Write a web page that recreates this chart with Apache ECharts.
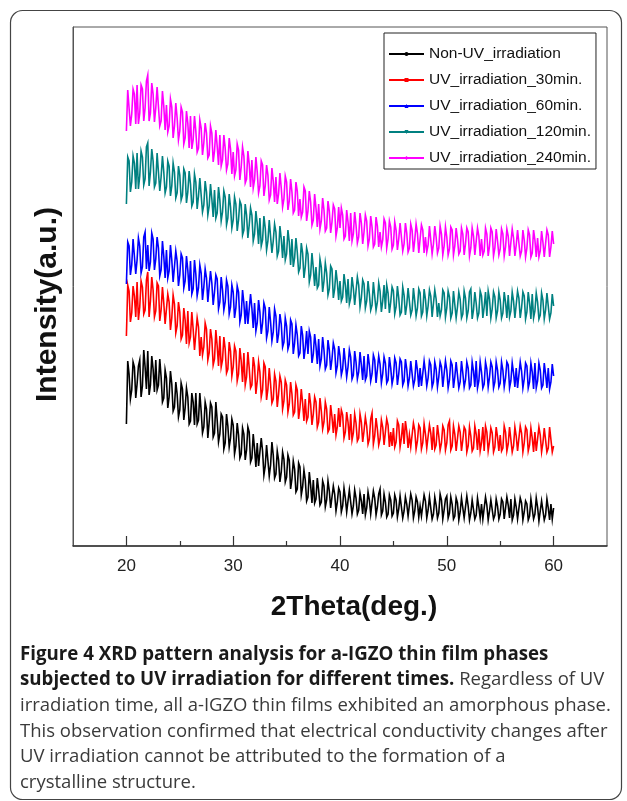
<!DOCTYPE html>
<html>
<head>
<meta charset="utf-8">
<script src="https://cdn.jsdelivr.net/npm/echarts@6/dist/echarts.min.js"></script>
<style>
html,body{margin:0;padding:0;background:#fff;}
#chart{width:627px;height:801px;}
</style>
</head>
<body>
<div id="chart"></div>
<script>
// 2θ sampling grid (degrees): 20° .. 60° every 0.125°
const thetaStart = 20;
const thetaStep = 0.125;
const majorTicks = [20, 30, 40, 50, 60];
const minorTicks = [25, 35, 45, 55];

const seriesNames = ['Non-UV_irradiation', 'UV_irradiation_30min.', 'UV_irradiation_60min.', 'UV_irradiation_120min.', 'UV_irradiation_240min.'];
const seriesColors = ['#000000', '#ff0000', '#0000ff', '#008080', '#ff00ff'];

// Intensities (a.u., traces offset as in the figure)
const nonUV = [
122,185,172,147,156,184,179,148,162,180,186,149,160,196,179,157,195,151,161,190,177,154,186,156,161,187,169,144,148,176,168,138,149,175,162,135,139,164,152,129,
136,163,157,126,138,158,149,122,125,153,144,121,153,122,126,153,135,113,119,144,137,108,124,143,139,109,113,144,126,104,112,132,129,97,103,132,120,99,108,127,
121,92,100,123,111,88,92,118,112,86,96,119,114,84,88,112,97,79,103,80,79,108,95,71,80,101,99,70,81,104,91,68,72,95,86,64,74,94,87,64,
69,91,86,57,67,85,77,54,57,83,79,51,59,76,66,45,49,74,61,43,66,43,47,68,56,41,44,65,60,39,46,65,55,38,38,60,52,35,44,58,
54,34,40,58,48,34,36,56,56,32,40,56,48,32,36,53,45,32,52,31,38,54,46,32,34,55,48,31,39,52,57,31,35,52,44,29,32,51,46,30,
33,51,46,29,37,50,50,28,35,49,42,30,29,52,46,28,35,49,44,29,40,30,31,51,45,28,36,49,48,27,32,49,41,28,33,52,46,27,36,47,
50,28,33,49,42,27,30,48,43,26,34,48,46,28,27,50,40,26,33,46,44,27,31,48,39,28,42,27,28,49,41,26,35,46,45,27,31,47,40,27,
32,47,44,27,29,49,41,28,47,26,31,47,39,27,28,48,43,26,34,45,42,26,30,47,47,27,32,48,39,25,26,45,44,26,31,47,38,26,42,27,
38];
const uv30 = [
210,261,255,224,233,260,250,229,264,226,239,265,259,232,236,266,274,229,245,269,256,229,235,263,260,225,236,259,243,222,223,252,244,216,228,251,242,213,220,244,
234,207,211,238,226,202,235,203,209,234,217,196,198,228,219,190,209,191,199,223,217,186,193,217,207,181,187,216,200,180,210,179,186,209,197,173,177,204,195,170,
179,200,195,165,172,198,185,164,193,161,169,194,178,158,161,189,180,152,165,184,174,149,156,183,179,146,157,178,162,143,147,172,165,139,152,170,164,137,145,166,
161,134,142,164,152,131,134,161,156,127,138,157,143,125,147,125,129,153,142,121,132,149,144,119,124,148,135,117,124,144,137,114,117,141,129,113,132,111,119,138,
119,136,131,108,114,134,124,106,132,106,113,132,123,105,108,132,124,104,115,129,120,102,107,127,133,102,110,128,117,101,107,126,119,101,102,127,121,99,114,100,
118,99,104,125,121,99,108,123,102,125,115,98,111,99,98,123,116,97,105,121,118,97,103,122,112,98,99,121,113,96,119,97,101,121,110,96,103,120,116,96,
103,121,125,96,100,120,112,95,97,120,114,95,106,119,116,94,100,119,110,95,98,120,112,96,117,95,103,119,95,120,114,95,104,118,113,94,99,119,109,95,
111,95,98,120,114,95,102,119,119,94,100,119,110,95,97,120,113,94,103,119,116,95,101,118,108,94,114,95,95,119,111,94,103,118,116,94,98,119,119,94,
100];
const uv60 = [
262,304,300,271,281,307,305,272,286,308,300,273,279,309,314,277,301,275,284,313,307,276,287,309,298,270,276,305,290,268,296,268,275,301,286,264,266,295,285,260,
271,292,288,258,265,290,276,255,285,252,257,286,272,250,258,281,273,246,259,277,268,244,246,275,263,241,254,271,267,237,244,269,256,236,244,266,260,232,239,261,
254,228,238,260,254,224,231,256,243,222,245,222,224,252,238,218,243,215,223,246,234,212,223,243,238,208,215,239,224,205,214,237,230,203,212,232,222,199,204,228,
220,197,202,226,222,192,203,221,211,190,193,220,211,187,198,215,192,215,209,183,192,212,200,182,207,180,187,209,196,177,181,206,196,176,187,203,197,173,180,200,
190,171,177,198,198,169,179,196,189,167,171,195,184,167,174,194,181,166,190,166,170,192,181,165,172,191,186,163,165,190,182,163,172,189,183,163,166,189,178,162,
169,188,183,161,172,187,184,161,165,187,177,160,168,185,186,160,166,186,176,159,178,160,162,185,174,160,168,185,181,159,164,184,177,159,169,184,179,159,161,185,
176,158,166,185,181,158,169,184,184,158,164,185,173,159,166,184,178,158,161,184,175,159,185,158,165,184,174,158,162,184,177,159,169,184,179,158,164,184,176,159,
163,184,176,159,168,184,181,158,165,183,173,159,178,158,160,184,175,158,167,183,180,158,164,183,174,157,183,158,165,183,176,158,161,183,172,158,178,157,164,182,
170];
const uv120 = [
342,389,385,354,364,390,383,357,393,357,370,395,389,361,367,399,403,360,374,397,385,359,363,393,391,355,369,390,374,353,359,385,380,350,360,383,374,348,353,380,
371,346,351,377,373,343,354,375,362,340,344,372,364,337,350,368,366,334,341,365,354,331,340,362,347,329,356,328,333,359,346,325,334,355,349,321,328,352,339,318,
326,349,342,315,326,345,341,311,316,342,331,308,321,338,331,305,312,335,322,302,328,300,306,330,318,296,305,326,324,293,305,322,314,290,295,320,307,288,310,286,
292,316,304,281,307,279,288,308,294,274,278,303,293,268,279,298,292,264,271,293,278,260,279,258,261,287,279,254,265,283,273,251,257,280,277,248,257,276,264,246,
265,245,249,272,261,243,267,242,248,269,258,241,242,269,261,239,248,266,262,238,245,265,252,236,241,264,263,236,244,263,255,234,245,261,237,261,253,233,244,259,
255,232,239,260,248,231,234,259,251,231,241,258,257,231,236,258,245,230,238,257,253,230,234,257,247,230,240,256,250,229,230,256,247,229,243,230,236,256,253,229,
238,255,249,228,233,255,254,228,239,254,247,228,232,255,248,228,235,254,257,227,236,254,243,228,233,255,250,228,239,254,230,255,247,228,237,254,249,228,235,254,
246,228,233,254,244,228,251,229,235,254,245,228,229,255,248,228,238,254,250,227,234,254,243,227,252,228,235,253,244,227,231,253,246,227,236,253,251,227,233,252,
240];
const uv240 = [
415,456,454,420,432,457,452,422,461,422,433,461,457,425,438,465,471,425,433,463,452,424,438,459,457,420,425,455,440,416,441,414,420,447,439,408,420,443,428,406,
415,439,434,402,408,435,423,398,430,397,406,430,415,394,398,426,418,391,403,423,413,388,391,420,413,384,395,416,400,381,411,380,386,411,398,376,382,408,397,372,
394,370,376,402,396,366,379,399,390,363,367,395,382,359,386,358,366,389,374,353,360,385,381,350,360,381,371,346,351,378,365,344,369,342,352,373,358,339,347,370,
364,336,345,367,354,333,336,364,355,330,347,329,334,359,355,325,335,355,344,321,326,352,338,319,342,317,325,348,336,315,318,345,335,313,324,341,337,310,318,339,
318,338,331,307,310,336,324,305,333,305,312,334,321,303,309,333,323,302,314,331,325,300,307,330,319,299,302,329,320,299,314,299,306,327,323,298,307,325,319,297,
301,324,316,296,307,323,321,295,302,323,313,294,298,322,316,294,306,322,313,293,295,321,316,293,309,294,301,320,320,292,302,320,309,293,298,320,312,291,300,319,
309,291,297,319,316,291,300,318,307,292,295,318,312,291,302,318,314,290,298,318,310,291,293,318,310,290,307,291,295,318,312,290,300,318,314,290,298,317,305,291,
297,317,312,290,299,317,310,290,292,317,308,290,301,316,315,290,295,316,306,289,298,316,311,289,293,316,306,289,308,289,295,315,304,289,290,316,311,289,299,315,
302];

const allSeries = [nonUV, uv30, uv60, uv120, uv240];
const legendSymbols = ['circle', 'path://M4,0L6,0L6,10L4,10Z', 'triangle', 'path://M0,0L10,0L5,10Z', 'diamond'];

const captionLines = [
  [{b: 'Figure 4 XRD pattern analysis for a-IGZO thin film phases'}],
  [{b: 'subjected to UV irradiation for different times.'}, {r: ' Regardless of UV'}],
  [{r: 'irradiation time, all a-IGZO thin films exhibited an amorphous phase.'}],
  [{r: 'This observation confirmed that electrical conductivity changes after'}],
  [{r: 'UV irradiation cannot be attributed to the formation of a'}],
  [{r: 'crystalline structure.'}]
];

const plotFont = "'Liberation Sans', Arial, sans-serif";
const capFont = "'Open Sans', 'Noto Sans', sans-serif";

function toPairs(arr) {
  return arr.map((v, i) => [thetaStart + i * thetaStep, v]);
}

const chart = echarts.init(document.getElementById('chart'), null, {renderer: 'canvas'});

const captionGraphics = captionLines.map((parts, i) => ({
  type: 'text',
  left: 20,
  top: 645 + i * 25.6,
  silent: true,
  style: {
    text: parts.map(p => p.b !== undefined ? '{b|' + p.b + '}' : '{r|' + p.r + '}').join(''),
    rich: {
      b: {fontFamily: capFont, fontWeight: 'bold', fontSize: 18.7, fill: '#1a1a1a'},
      r: {fontFamily: capFont, fontWeight: 'normal', fontSize: 18.5, fill: '#3a3a3a'}
    }
  }
}));

const option = {
  animation: false,
  backgroundColor: '#ffffff',
  grid: {left: 73, right: 20, top: 27, bottom: 255, show: true, borderColor: '#555', borderWidth: 1},
  legend: {
    orient: 'vertical',
    left: 384,
    top: 33,
    padding: [11, 5, 1, 4],
    itemWidth: 35,
    itemHeight: 5,
    itemGap: 6,
    borderColor: '#222',
    borderWidth: 1,
    backgroundColor: '#fff',
    textStyle: {fontFamily: plotFont, fontSize: 15.5, color: '#111', lineHeight: 20},
    data: seriesNames
  },
  xAxis: [{
    type: 'value',
    position: 'bottom',
    min: 15,
    max: 65,
    name: '2Theta(deg.)',
    nameLocation: 'middle',
    nameGap: 47,
    nameTextStyle: {fontFamily: plotFont, fontWeight: 'bold', fontSize: 28, color: '#111', padding: [0, 0, 0, 28]},
    axisLine: {show: true, onZero: false, lineStyle: {color: '#333', width: 1.5}},
    axisTick: {show: true, inside: true, length: 10, customValues: majorTicks, lineStyle: {color: '#333', width: 1.2}},
    axisLabel: {fontFamily: plotFont, fontSize: 17, color: '#222', margin: 12, customValues: majorTicks},
    splitLine: {show: false}
  }, {
    type: 'value',
    position: 'bottom',
    min: 15,
    max: 65,
    axisLine: {show: false},
    axisTick: {show: true, inside: true, length: 5, customValues: minorTicks, lineStyle: {color: '#333', width: 1.2}},
    axisLabel: {show: false},
    splitLine: {show: false}
  }],
  yAxis: {
    type: 'value',
    min: 0,
    max: 519,
    name: 'Intensity(a.u.)',
    nameLocation: 'middle',
    nameRotate: 90,
    nameGap: 10,
    nameTextStyle: {fontFamily: plotFont, fontWeight: 'bold', fontSize: 30, color: '#111', padding: [0, 36, 0, 0]},
    axisLine: {show: true, lineStyle: {color: '#555', width: 1}},
    axisTick: {show: false},
    axisLabel: {show: false},
    splitLine: {show: false}
  },
  graphic: [
    {
      type: 'rect',
      left: 8, top: 8,
      shape: {width: 611, height: 789, r: 12},
      style: {fill: 'none', stroke: '#444', lineWidth: 1.2},
      silent: true
    }
  ].concat(captionGraphics),
  series: allSeries.map((arr, i) => ({
    name: seriesNames[i],
    type: 'line',
    xAxisIndex: 0,
    data: toPairs(arr),
    symbol: legendSymbols[i],
    showSymbol: false,
    sampling: 'none',
    color: seriesColors[i],
    lineStyle: {width: 1.6, color: seriesColors[i], join: 'miter'},
    itemStyle: {color: seriesColors[i]},
    emphasis: {disabled: true},
    z: 2 + i
  }))
};

chart.setOption(option);
</script>
</body>
</html>
